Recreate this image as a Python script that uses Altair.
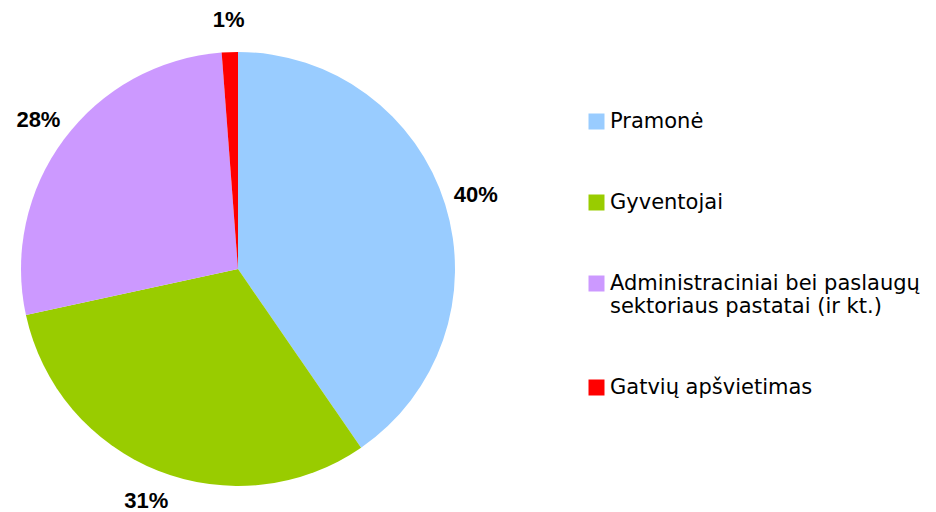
import altair as alt
import pandas as pd

categories = ["Pramonė", "Gyventojai",
              "Administraciniai bei paslaugų|sektoriaus pastatai (ir kt.)",
              "Gatvių apšvietimas"]
values = [40.4, 31.2, 27.2, 1.2]
labels = ["40%", "31%", "28%", "1%"]
colors = ["#99CCFF", "#99CC00", "#CC99FF", "#FF0000"]

df = pd.DataFrame({"cat": categories, "val": values, "lbl": labels,
                   "idx": list(range(len(categories)))})

color = alt.Color("cat:N",
                  scale=alt.Scale(domain=categories, range=colors),
                  legend=alt.Legend(title=None, orient="none", legendX=578, legendY=77,
                                    symbolType="square", symbolSize=256,
                                    symbolStrokeWidth=0,
                                    labelFont="DejaVu Sans", labelFontSize=21,
                                    labelColor="#000000", labelLimit=500,
                                    labelOffset=3, rowPadding=59,
                                    labelExpr="split(datum.label, '|')"))

base = alt.Chart(df).encode(
    theta=alt.Theta("val:Q", stack=True),
    order=alt.Order("idx:Q"),
)

pie = base.mark_arc(radius=217, stroke=None).encode(color=color)
text = base.mark_text(radius=249, font="Liberation Sans", fontSize=22,
                      fontWeight="bold", color="#000000").encode(text="lbl:N")

chart = alt.layer(pie, text).properties(
    width=460, height=470,
    autosize=alt.AutoSizeParams(type="none"),
    padding={"left": 0, "top": 26, "right": 460, "bottom": 24},
).configure_view(stroke=None)

chart.save("out.html", embed_options={"renderer": "svg", "actions": False})
